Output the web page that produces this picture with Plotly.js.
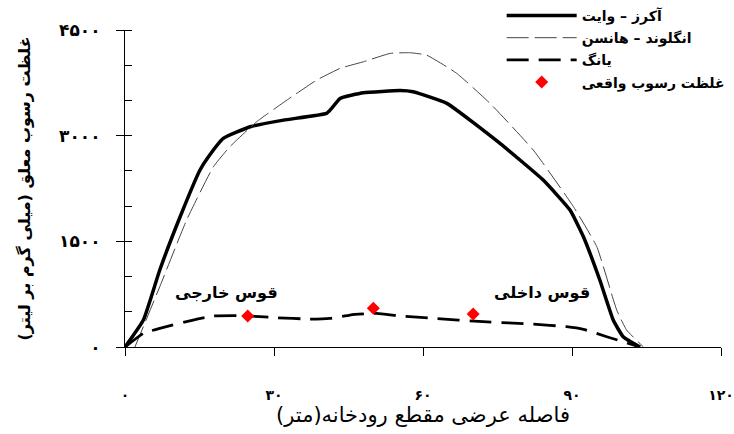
<!DOCTYPE html>
<html><head><meta charset="utf-8">
<script src="https://cdn.plot.ly/plotly-3.0.1.min.js"></script>
<style>html,body{margin:0;padding:0;background:#fff}#chart{width:734px;height:434px}</style>
</head><body><div id="chart"></div>
<script>
// Ackers-White
const awX = [0, 3.7, 7.0, 11.1, 15.1, 16.8, 19.8, 25.2, 31.9, 40.6, 41.6, 43.3, 48.0, 55.4, 58.0, 64.8, 75.5, 84.2, 89.6, 92.3, 95.6, 98.3, 100.3, 103.7];
const awY = [0, 383, 1093, 1849, 2512, 2700, 2961, 3126, 3221, 3316, 3387, 3529, 3609, 3640, 3623, 3458, 2890, 2370, 1944, 1565, 951, 383, 146, 0];
// Englund-Hansen
const ehX = [2.0, 7.0, 12.4, 17.8, 21.1, 26.5, 32.6, 38.6, 43.3, 48.0, 53.4, 57.4, 60.7, 66.8, 73.5, 82.2, 90.3, 95.0, 99.0, 101.0, 104.4];
const ehY = [0, 856, 1802, 2559, 2842, 3197, 3505, 3789, 3955, 4049, 4168, 4177, 4144, 3884, 3458, 2796, 1991, 1423, 525, 241, 0];
// Yang
const yX = [0, 3.7, 7.0, 13.7, 17.8, 23.8, 30.5, 37.2, 41.3, 45.3, 50.7, 55.4, 62.1, 72.1, 82.2, 88.9, 92.3, 97.0, 103.7];
const yY = [0, 194, 265, 383, 440, 444, 416, 397, 407, 454, 478, 440, 407, 359, 326, 288, 251, 146, 0];
// Measured concentration
const mX = [24.7, 50.0, 70.1];
const mY = [440, 549, 468];

const names = ['آکرز – وایت', 'انگلوند – هانسن', 'یانگ', 'غلظت رسوب واقعی'];
const xTickVals = [0, 30, 60, 90, 120];
const xTickText = ['۰', '۳۰', '۶۰', '۹۰', '۱۲۰'];
const yTickVals = [0, 1500, 3000, 4500];
const yTickText = ['۰', '۱۵۰۰', '۳۰۰۰', '۴۵۰۰'];
const annText = ['قوس خارجی', 'قوس داخلی'];
const annX = [20.5, 84];
const annY = [770, 770];

const F = 'DejaVu Sans, Noto Sans, sans-serif';

const traces = [
  {x: awX, y: awY, name: names[0], mode: 'lines', line: {color: '#000', width: 3.5, shape: 'spline', smoothing: 0.4}, legendgroup: 'a'},
  {x: ehX, y: ehY, name: names[1], mode: 'lines', line: {color: '#444', width: 1, dash: '22px,6px', shape: 'spline', smoothing: 0.4}, legendgroup: 'b'},
  {x: yX, y: yY, name: names[2], mode: 'lines', line: {color: '#000', width: 2.8, dash: '22px,10px', shape: 'spline', smoothing: 0.4}, legendgroup: 'c'},
  {x: mX, y: mY, name: names[3], mode: 'markers', marker: {color: '#ff0000', symbol: 'diamond', size: 10}, legendgroup: 'd'}
];

const layout = {
  width: 734, height: 434,
  margin: {l: 125, r: 13, t: 30, b: 87, autoexpand: false},
  paper_bgcolor: '#fff', plot_bgcolor: '#fff',
  font: {family: F, color: '#000'},
  showlegend: true,
  legend: {x: 0.632, y: 1.095, xanchor: 'left', yanchor: 'top', bgcolor: 'rgba(0,0,0,0)', itemwidth: 70,
    font: {family: F, size: 14, color: '#000', weight: 'bold'}, traceorder: 'grouped', tracegroupgap: 1},
  xaxis: {range: [0, 120], tickvals: xTickVals, ticktext: xTickText, ticks: 'outside', ticklen: 8,
    tickcolor: '#000', showline: true, linecolor: '#000', linewidth: 1, showgrid: false, zeroline: false,
    ticklabelstandoff: 27, ticklabeloverflow: 'allow', tickfont: {family: F, size: 14, weight: 'bold'},
    title: {text: 'فاصله عرضی مقطع رودخانه(متر)', font: {family: F, size: 21}, standoff: 2}},
  yaxis: {range: [0, 4500], tickvals: yTickVals, ticktext: yTickText, ticks: 'outside', ticklen: 8,
    tickcolor: '#000', showline: true, linecolor: '#000', linewidth: 1, showgrid: false, zeroline: false,
    ticklabelstandoff: 12, ticklabeloverflow: 'allow', tickfont: {family: F, size: 17, weight: 'bold'},
    minor: {dtick: 500, tick0: 0, ticks: 'inside', ticklen: 7, tickcolor: '#000', showgrid: false},
    title: {text: 'غلظت رسوب معلق (میلی گرم بر لیتر)', font: {family: F, size: 16, weight: 'bold'}, standoff: 24}},
  annotations: annText.map((t, i) => ({x: annX[i], y: annY[i], xref: 'x', yref: 'y', text: t, showarrow: false,
    font: {family: F, size: 16, color: '#000', weight: 'bold'}}))
};

Plotly.newPlot('chart', traces, layout, {staticPlot: true, displayModeBar: false});
</script></body></html>
